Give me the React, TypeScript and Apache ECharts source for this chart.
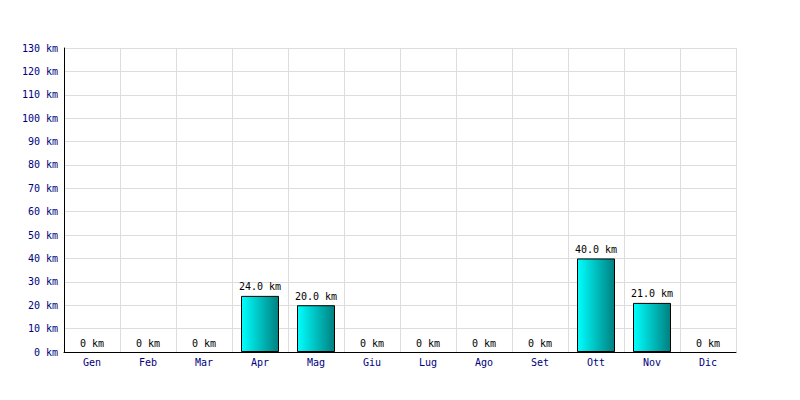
import React, { useEffect, useRef } from "react";
import * as echarts from "echarts";

const months = ["Gen", "Feb", "Mar", "Apr", "Mag", "Giu", "Lug", "Ago", "Set", "Ott", "Nov", "Dic"];
const distances = [0, 0, 0, 24, 20, 0, 0, 0, 0, 40, 21, 0];
const yMin = 0;
const yMax = 130;
const yStep = 10;

export default function App() {
  const ref = useRef<HTMLDivElement>(null);
  useEffect(() => {
    if (!ref.current) return;
    const chart = echarts.init(ref.current, null, { renderer: "svg" });
    const font = "'DejaVu Sans Mono', monospace";
    chart.setOption({
      animation: false,
      backgroundColor: "#ffffff",
      grid: { left: 64, right: 64, top: 48, bottom: 48 },
      xAxis: {
        type: "category",
        data: months,
        axisLine: { show: true, lineStyle: { color: "#000000", width: 1 } },
        axisTick: { show: false },
        axisLabel: { color: "#000080", fontFamily: font, fontSize: 10, margin: 5 },
        splitLine: { show: true, interval: 0, lineStyle: { color: "#dddddd", width: 1 } },
      },
      yAxis: {
        type: "value",
        min: yMin,
        max: yMax,
        interval: yStep,
        axisLine: { show: true, lineStyle: { color: "#000000", width: 1 } },
        axisTick: { show: false },
        axisLabel: {
          color: "#000080",
          fontFamily: font,
          fontSize: 10,
          margin: 6,
          formatter: (v: number) => `${v} km`,
        },
        splitLine: { show: true, lineStyle: { color: "#dddddd", width: 1 } },
      },
      series: [
        {
          type: "bar",
          data: distances.map((v) =>
            v === 0
              ? { value: v, itemStyle: { borderWidth: 0, color: "rgba(0,0,0,0)", borderColor: "rgba(0,0,0,0)" } }
              : { value: v }
          ),
          barWidth: 38,
          itemStyle: {
            color: new echarts.graphic.LinearGradient(0, 0, 1, 0, [
              { offset: 0, color: "#00ffff" },
              { offset: 1, color: "#008080" },
            ]),
            borderColor: "#000000",
            borderWidth: 1,
          },
          label: {
            show: true,
            position: "top",
            distance: 4,
            color: "#000000",
            textBorderWidth: 0,
            textBorderColor: "transparent",
            fontFamily: font,
            fontSize: 10,
            formatter: (p: any) => (p.value === 0 ? "0 km" : `${Number(p.value).toFixed(1)} km`),
          },
        },
      ],
    });
    return () => chart.dispose();
  }, []);
  return <div ref={ref} style={{ position: "fixed", left: 0, top: 0, width: 800, height: 400 }} />;
}
